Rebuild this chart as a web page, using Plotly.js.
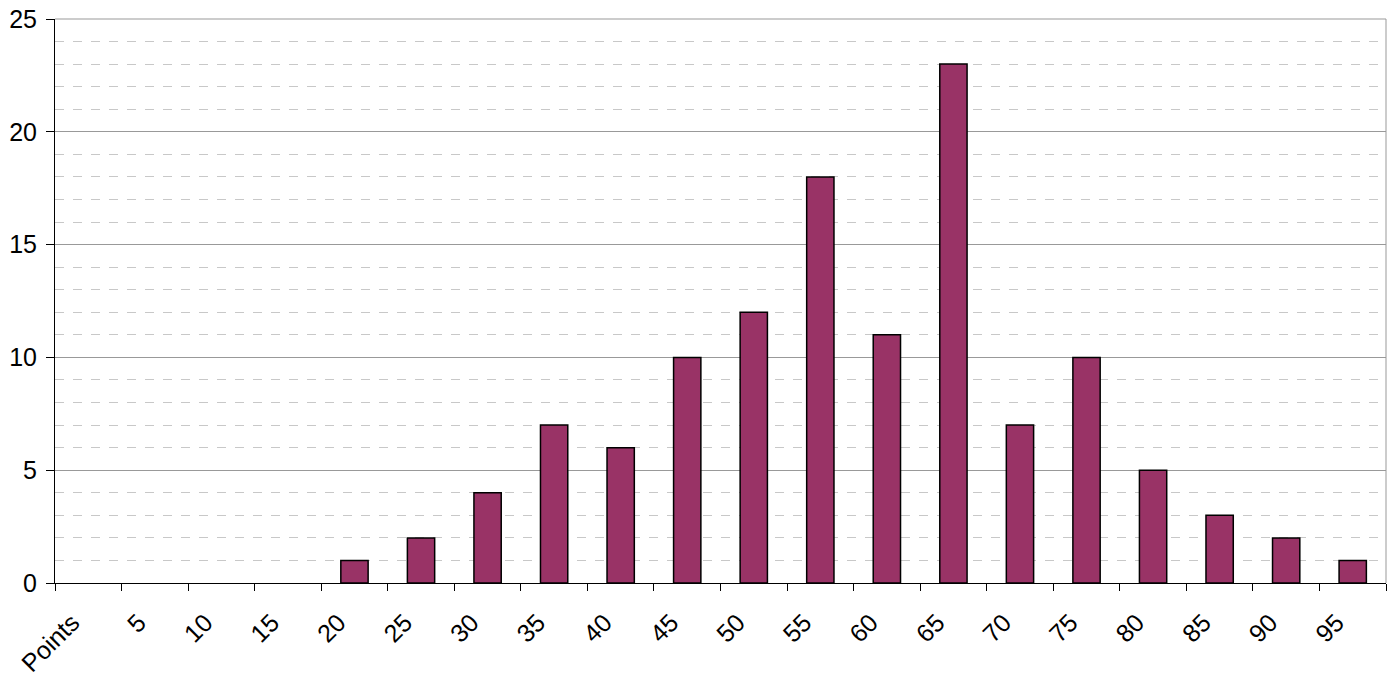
<!DOCTYPE html>
<html>
<head>
<meta charset="utf-8">
<script src="https://cdn.plot.ly/plotly-3.0.1.min.js"></script>
<style>html,body{margin:0;padding:0;background:#fff;}#chart{width:1394px;height:677px;}</style>
</head>
<body>
<div id="chart"></div>
<script>
const categories = ["Points","5","10","15","20","25","30","35","40","45","50","55","60","65","70","75","80","85","90","95"];
const counts = [0,0,0,0,1,2,4,7,6,10,12,18,11,23,7,10,5,3,2,1];
const yTickValues = [0,5,10,15,20,25];

const trace = {
  type: "bar",
  x: categories,
  y: counts,
  marker: {color: "#993366", line: {color: "#000000", width: counts.map(v => v > 0 ? 1.5 : 0)}},
  hoverinfo: "x+y"
};

const layout = {
  width: 1394, height: 677,
  margin: {l: 55, r: 8, t: 19, b: 94, pad: 0},
  paper_bgcolor: "#ffffff",
  plot_bgcolor: "#ffffff",
  bargap: 0.59,
  showlegend: false,
  font: {family: "Liberation Sans, Arial, sans-serif", size: 25, color: "#000"},
  xaxis: {
    type: "category",
    tickson: "boundaries",
    ticks: "outside", ticklen: 7, tickwidth: 1, tickcolor: "#000",
    showline: true, linecolor: "#000", linewidth: 1,
    showgrid: false, zeroline: false,
    tickangle: -45,
    ticklabelstandoff: 14,
    ticklabelshift: -16,
    tickfont: {size: 25, color: "#000"},
    range: [-0.5, categories.length - 0.5]
  },
  yaxis: {
    range: [0, 25],
    tickvals: yTickValues,
    ticks: "outside", ticklen: 8, tickwidth: 1, tickcolor: "#000",
    showline: true, linecolor: "#000", linewidth: 1,
    showgrid: true, gridcolor: "#999999", gridwidth: 1,
    zeroline: false,
    ticklabelstandoff: 4,
    tickfont: {size: 25, color: "#000"},
    minor: {dtick: 1, showgrid: true, gridcolor: "#c8c8c8", griddash: "dash", gridwidth: 1, ticks: ""}
  },
  shapes: [
    {type: "line", xref: "paper", yref: "paper", x0: 0, x1: 1, y0: 1, y1: 1, line: {color: "#999999", width: 1}},
    {type: "line", xref: "paper", yref: "paper", x0: 1, x1: 1, y0: 0, y1: 1, line: {color: "#999999", width: 1}}
  ]
};

Plotly.newPlot("chart", [trace], layout, {staticPlot: true, displayModeBar: false});
</script>
</body>
</html>
